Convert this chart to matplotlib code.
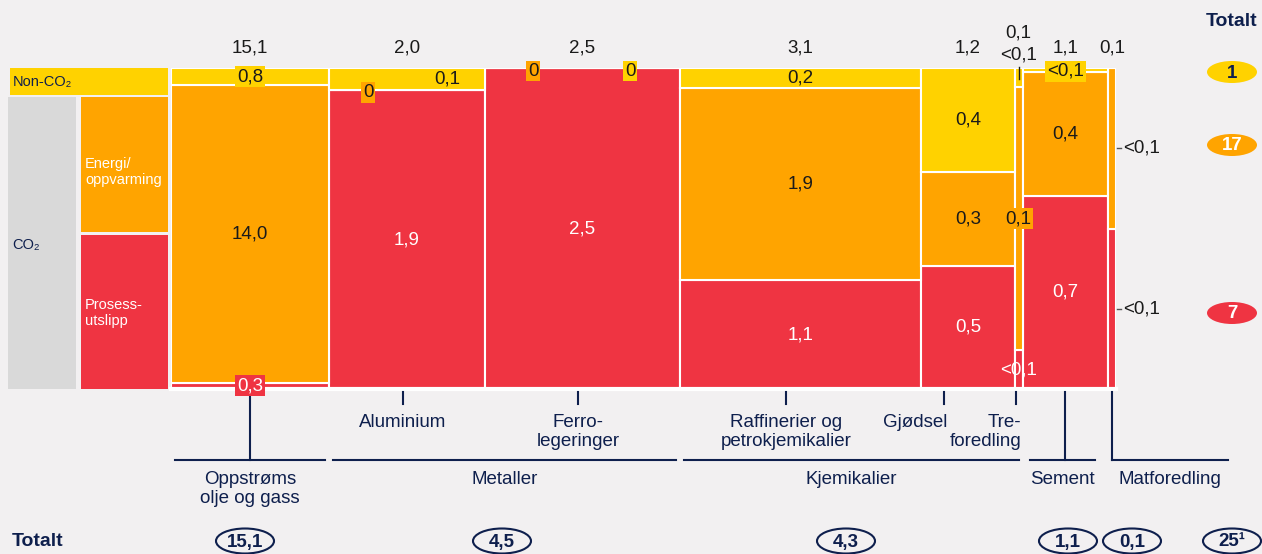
import numpy as np
import matplotlib.pyplot as plt
from matplotlib.patches import Ellipse, Rectangle

plt.rcParams['font.family'] = ['Liberation Sans', 'DejaVu Sans']

W, H = 1262, 554
BG = '#F2F0F1'
YEL = '#FFD200'
ORA = '#FFA400'
RED = '#EF3442'
GREY = '#D9D9D9'
NAVY = '#0E1F4D'
INK = '#1A1A1A'
FS = 13.5

# --- data (Mt CO2-ekv.) ---
totals = [15.1, 2.0, 2.5, 3.1, 1.2, 0.1, 1.1, 0.1]
non_co2 = [0.8, 0.14, 0.0, 0.19, 0.39, 0.006, 0.015, 0.0]
energy = [14.0, 0.0, 0.0, 1.86, 0.35, 0.082, 0.42, 0.05]
process = [0.3, 1.86, 2.5, 1.05, 0.46, 0.012, 0.66, 0.05]

total_labels = ['15,1', '2,0', '2,5', '3,1', '1,2', '0,1', '1,1', '0,1']
non_co2_labels = ['0,8', '0,1', '0', '0,2', '0,4', '<0,1', '<0,1', '']
energy_labels = ['14,0', '0', '0', '1,9', '0,3', '0,1', '0,4', '<0,1']
process_labels = ['0,3', '1,9', '2,5', '1,1', '0,5', '<0,1', '0,7', '<0,1']

sub_labels = ['', 'Aluminium', 'Ferro-\nlegeringer', 'Raffinerier og\npetrokjemikalier',
              'Gjødsel', 'Tre-\nforedling', '', '']
groups = ['Oppstrøms\nolje og gass', 'Metaller', 'Kjemikalier', 'Sement', 'Matforedling']
group_members = [[0], [1, 2], [3, 4, 5], [6], [7]]
group_totals = ['15,1', '4,5', '4,3', '1,1', '0,1']
grand_total = '25¹'
gas_totals = ['1', '17', '7']  # non-CO2, energi, prosess

# --- layout ---
widths = np.array(totals, dtype=float)
widths[0] = 2.03  # oil & gas column drawn compressed
left = np.concatenate([[0], np.cumsum(widths)[:-1]])
n = len(totals)

fig = plt.figure(figsize=(W / 100, H / 100), dpi=100, facecolor=BG)
ax = fig.add_axes([171 / W, 1 - 389 / H, 945 / W, 321 / H])
ax.set_facecolor('none')
ax.set_xlim(0, widths.sum())
ax.set_ylim(0, 1)
ax.set_xticks([])
ax.set_yticks([])
for s in ['top', 'left', 'right']:
    ax.spines[s].set_visible(False)
ax.spines['bottom'].set_color('white')
ax.spines['bottom'].set_linewidth(3)

col_sum = np.array(non_co2) + np.array(energy) + np.array(process)
bottom = np.zeros(n)
mids = {}
for key, vals, col in [('pro', process, RED), ('ene', energy, ORA), ('non', non_co2, YEL)]:
    share = np.array(vals) / col_sum
    ax.bar(left, share, width=widths, bottom=bottom, align='edge', color=col,
           edgecolor='white', linewidth=1.5)
    mids[key] = bottom + share / 2
    bottom = bottom + share

ov = fig.add_axes([0, 0, 1, 1], zorder=3)
ov.set_xlim(0, W)
ov.set_ylim(H, 0)
ov.axis('off')


def px(x):
    return ax.transData.transform((x, 0))[0]


def py(y):
    return H - ax.transData.transform((0, y))[1]


def txt(x, y, s, color=INK, box=None, ha='center', va='center', size=FS, weight='normal'):
    kw = {}
    if box:
        kw['bbox'] = dict(boxstyle='square,pad=0.1', fc=box, ec='none')
    ov.text(x, y, s, color=color, ha=ha, va=va, fontsize=size, fontweight=weight,
            linespacing=1.15, **kw)


# left legend block
ov.add_patch(Rectangle((10, 68), 158, 27, fc=YEL, ec='none'))
ov.add_patch(Rectangle((8, 97), 68, 292, fc=GREY, ec='none'))
ov.add_patch(Rectangle((81, 97), 87, 135, fc=ORA, ec='none'))
ov.add_patch(Rectangle((81, 235), 87, 154, fc=RED, ec='none'))
txt(13, 82, 'Non-CO₂', color=NAVY, ha='left', size=10.5)
txt(12, 245, 'CO₂', color=NAVY, ha='left', size=10.5)
txt(85, 172, 'Energi/\noppvarming', color='white', ha='left', size=10.5)
txt(85, 313, 'Prosess-\nutslipp', color='white', ha='left', size=10.5)

# bar labels
special = {
    (0, 'non'): dict(box=YEL),
    (0, 'pro'): dict(box=RED),
    (1, 'non'): dict(dx=40),
    (1, 'ene'): dict(dx=-39, dy=2, box=ORA),
    (2, 'ene'): dict(dx=-49, dy=3, box=ORA),
    (2, 'non'): dict(dx=48, dy=3, box=YEL),
    (5, 'ene'): dict(box=ORA),
    (6, 'non'): dict(box=YEL, dy=1),
}
label_sets = {'non': non_co2_labels, 'ene': energy_labels, 'pro': process_labels}
for i in range(n):
    xc = px(left[i] + widths[i] / 2)
    xr = px(left[i] + widths[i])
    top = py(1)
    txt(xc, top - 20 if i != 5 else top - 35, total_labels[i])
    for key, labs in label_sets.items():
        s = labs[i]
        if not s:
            continue
        y = py(mids[key][i])
        if i == 5 and key == 'non':
            txt(xc, top - 13, s)
            ov.plot([xc, xc], [top - 1, top + 11], color=INK, lw=1)
            continue
        if i == 7:
            ov.plot([xr + 1, xr + 5], [y, y], color='#555555', lw=1)
            txt(xr + 7, y, s, ha='left')
            continue
        sp = special.get((i, key), {})
        color = 'white' if key == 'pro' else INK
        txt(xc + sp.get('dx', 0), y + sp.get('dy', 0), s, color=color, box=sp.get('box'))

# category ticks and labels
y0 = py(0)
tick_shift = [0, -4, -4, -14, -24, -3, 0, 0]
for i in range(n):
    xt = px(left[i] + widths[i] / 2) + tick_shift[i]
    if sub_labels[i]:
        ov.plot([xt, xt], [y0 + 3, y0 + 15], color=NAVY, lw=1.5)
        if i in (4, 5):
            txt(xt + (3 if i == 4 else 6), y0 + 25, sub_labels[i], color=NAVY, ha='right', va='top')
        else:
            txt(xt, y0 + 25, sub_labels[i], color=NAVY, va='top')
    else:
        ov.plot([xt, xt], [y0 + 3, y0 + 71], color=NAVY, lw=1.5)

for g, mem in enumerate(group_members):
    xa = px(left[mem[0]]) + 4
    xb = px(left[mem[-1]] + widths[mem[-1]]) - 4
    if g == 3:
        xa, xb = xa + 3, xb - 9
    if g == 4:
        xa = px(left[7] + widths[7] / 2)
        xb = 1228
    ov.plot([xa, xb], [y0 + 71, y0 + 71], color=NAVY, lw=1.5)
    txt((xa + xb) / 2, y0 + 82, groups[g], color=NAVY, va='top')

# totals
txt(1232, 22, 'Totalt', color=NAVY, size=14, weight='bold')
for s, yy, fc, tc in zip(gas_totals, [72, 145, 313], [YEL, ORA, RED], [NAVY, 'white', 'white']):
    ov.add_patch(Ellipse((1232, yy), 50, 22, fc=fc, ec='none'))
    txt(1232, yy + 1, s, color=tc, size=13.5, weight='bold')

txt(38, 541, 'Totalt', color=NAVY, size=14, weight='bold')
row_x = [245, 502, 846, 1068, 1132, 1232]
for xx, s in zip(row_x, group_totals + [grand_total]):
    ov.add_patch(Ellipse((xx, 541), 58, 25, fc='none', ec=NAVY, lw=1.5))
    txt(xx, 542, s, color=NAVY, size=13.5, weight='bold')

fig.savefig('out.png', dpi=100, facecolor=BG)
